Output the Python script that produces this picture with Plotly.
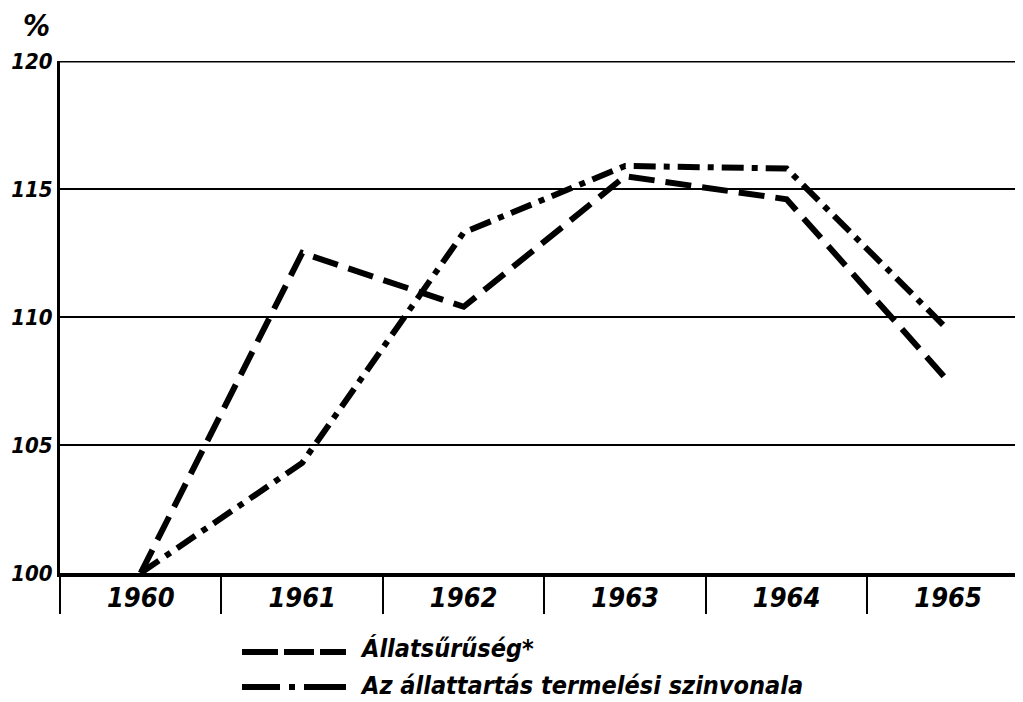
import plotly.graph_objects as go

years = ["1960", "1961", "1962", "1963", "1964", "1965"]
allatsuruseg = [100, 112.5, 110.4, 115.5, 114.6, 107.5]
termelesi_szinvonal = [100, 104.3, 113.3, 115.9, 115.8, 109.5]
series_names = ["Állatsűrűség*", "Az állattartás termelési szinvonala"]
y_ticks = [100, 105, 110, 115, 120]

FONT = "DejaVu Sans Condensed"

fig = go.Figure()
fig.add_trace(go.Scatter(x=years, y=allatsuruseg, mode="lines", name=series_names[0],
                         line=dict(color="black", width=6, dash="26px,11px")))
fig.add_trace(go.Scatter(x=years, y=termelesi_szinvonal, mode="lines", name=series_names[1],
                         line=dict(color="black", width=6, dash="22px,8px,6px,8px")))

# page body has an 8px margin; plot area targeted in page pixels
PL, PT, PR, PB = 60, 61, 1023, 573
W, H = 1015, 694
L, T = PL - 8, PT - 8
R = W - (PR - 8)
B = H - (PB - 8)
pw, ph = PR - PL, PB - PT

def px(x):
    return (x - PL) / pw

def py(y):
    return (PB - y) / ph

# top frame line at 120
fig.add_shape(type="line", xref="paper", yref="y", x0=0, x1=1, y0=120, y1=120,
              line=dict(color="black", width=3))

# legend (drawn manually to match the long sample lines)
leg_y = [652, 687]
txt_y = [648, 685]
leg_dash = ["36px,6px,30px,6px,27px", "38px,9px,6px,9px,45px"]
for yy, ty, d, name in zip(leg_y, txt_y, leg_dash, series_names):
    fig.add_shape(type="line", xref="paper", yref="paper",
                  x0=px(242), x1=px(346), y0=py(yy), y1=py(yy),
                  line=dict(color="black", width=6, dash=d))
    fig.add_annotation(xref="paper", yref="paper", x=px(358), y=py(ty),
                       xanchor="left", yanchor="middle", showarrow=False,
                       text=name,
                       font=dict(family=FONT, size=25, color="black",
                                 style="italic", weight="bold"))

fig.add_annotation(xref="paper", yref="paper", x=px(21), y=py(25),
                   xanchor="left", yanchor="middle", showarrow=False, text="%",
                   font=dict(family=FONT, size=30, color="black",
                             style="italic", weight="bold"))

fig.update_layout(
    width=W, height=H,
    margin=dict(l=L, r=R, t=T, b=B),
    plot_bgcolor="white", paper_bgcolor="white",
    showlegend=False,
    xaxis=dict(
        type="category", range=[-0.5, 5.464],
        showgrid=False, zeroline=False,
        showline=True, linecolor="black", linewidth=4,
        ticks="outside", tickson="boundaries", ticklen=37, tickwidth=2,
        tickcolor="black",
        ticklabelstandoff=-2,
        tickfont=dict(family=FONT, size=27, color="black",
                      style="italic", weight="bold"),
    ),
    yaxis=dict(
        range=[100, 120], tickvals=y_ticks,
        showgrid=True, gridcolor="black", gridwidth=2,
        zeroline=False,
        showline=True, linecolor="black", linewidth=3,
        ticks="", ticklabelstandoff=0,
        tickfont=dict(family=FONT, size=22, color="black",
                      style="italic", weight="bold"),
    ),
)

fig.write_html("out.html")
